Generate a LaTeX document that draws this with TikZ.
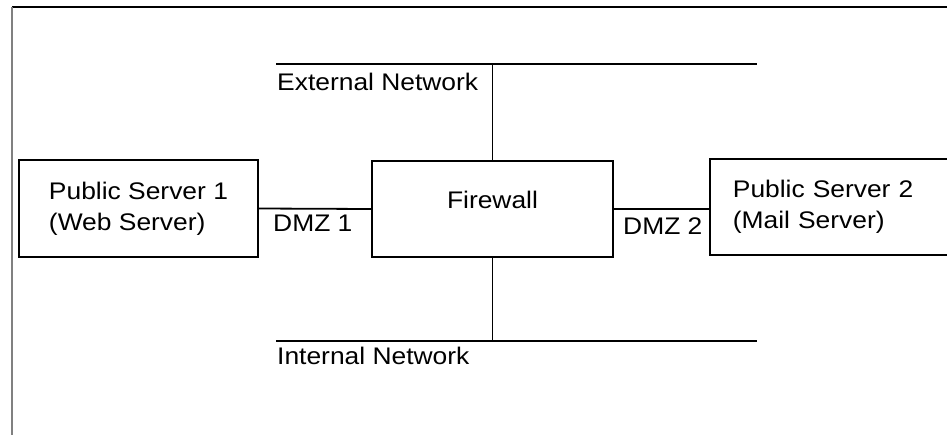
\documentclass[tikz,border=0pt]{standalone}
\usepackage{fontspec}
\setmainfont{Liberation Sans}[FakeStretch=1.1]
\begin{document}
\begin{tikzpicture}[x=1pt,y=-1pt,
  every node/.style={font=\fontsize{24}{31}\selectfont},
  box/.style={draw=black,line width=1.8pt,inner sep=0pt},
  wire/.style={draw=black,line width=1.8pt},
  lbl/.style={anchor=base west,inner sep=0pt}]
\useasboundingbox (0,0) rectangle (947,434);
\clip (0,0) rectangle (947,434);

% page frame
\draw[line width=1.2pt,black] (12,7) -- (960,7);
\draw[line width=1.8pt,black!50] (12,7) -- (12,440);

% boxes
\node[box,minimum width=239pt,minimum height=97pt,align=left]
  (ps1) at (138.5,208.5) {Public Server 1\\(Web Server)};
\node[box,minimum width=241pt,minimum height=96pt] (fw) at (492.5,209) {};
\node[lbl,anchor=base] (fwlabel) at (492.5,208) {Firewall};
\node[box,anchor=west,minimum height=96pt,text width=260pt,inner xsep=23pt,align=left]
  (ps2) at (709,207) {Public Server 2\\(Mail Server)};

% network segments
\coordinate (extL) at (276,64);
\coordinate (extR) at (757,64);
\coordinate (intL) at (276,341);
\coordinate (intR) at (757,341);
\draw[wire] (extL) -- (extR);
\draw[wire] (intL) -- (intR);
\draw[wire] (fw.north) -- (fw.north |- extL);
\draw[wire] (fw.south) -- (fw.south |- intL);

% DMZ links
\draw[wire] (ps1.east) -- (fw.west);
\draw[wire] (fw.east) -- (fw.east -| ps2.west);

% labels
\node[lbl] (extlabel) at (277,90) {External Network};
\node[lbl] (intlabel) at (277,364) {Internal Network};
\node[lbl] (dmz1) at (273,231) {DMZ 1};
\node[lbl] (dmz2) at (623,234) {DMZ 2};
\end{tikzpicture}
\end{document}
